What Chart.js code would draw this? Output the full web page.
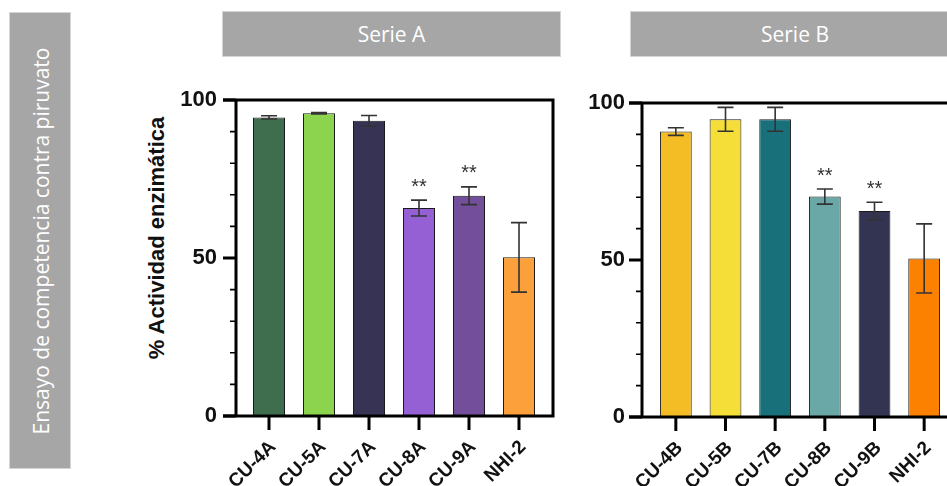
<!DOCTYPE html>
<html lang="es">
<head>
<meta charset="utf-8">
<title>Ensayo de competencia contra piruvato</title>
<script src="https://cdn.jsdelivr.net/npm/chart.js@4.4.1/dist/chart.umd.min.js"></script>
<style>
  html, body { margin: 0; padding: 0; background: #ffffff; overflow: hidden; }
  body { width: 947px; height: 486px; position: relative; }
  .box {
    position: absolute; background: #a6a6a6; border: 1px solid #d4d4d4;
    color: #ffffff; font-family: "Open Sans", sans-serif; box-sizing: border-box;
    display: flex; align-items: center; justify-content: center;
  }
  #side { left: 9px; top: 12px; width: 62px; height: 457px; }
  #side span { transform: rotate(-90deg); white-space: nowrap; font-size: 21px; }
  #headA { left: 222px; top: 11px; width: 339px; height: 46px; font-size: 21px; }
  #headB { left: 630px; top: 11px; width: 330px; height: 46px; font-size: 21px; }
  #ytitle {
    position: absolute; left: 157px; top: 238px; transform: translate(-50%, -50%) rotate(-90deg);
    font-family: "Liberation Sans", Arial, sans-serif; font-weight: bold; font-size: 22px;
    color: #111111; white-space: nowrap;
  }
  canvas { position: absolute; }
  #chartA { left: 100px; top: 0px; }
  #chartB { left: 580px; top: 0px; }
</style>
</head>
<body>
<div class="box" id="side"><span>Ensayo de competencia contra piruvato</span></div>
<div class="box" id="headA">Serie A</div>
<div class="box" id="headB">Serie B</div>
<div id="ytitle">% Actividad enzimática</div>
<canvas id="chartA" width="470" height="486"></canvas>
<canvas id="chartB" width="420" height="486"></canvas>
<script>
// Serie A
const categoriesA = ['CU-4A', 'CU-5A', 'CU-7A', 'CU-8A', 'CU-9A', 'NHI-2'];
const valuesA = [94.5, 95.8, 93.4, 65.8, 69.7, 50.2];
const errorsA = [0.5, 0.2, 1.7, 2.5, 2.8, 11.0];
const signifA = ['', '', '', '**', '**', ''];

// Serie B
const categoriesB = ['CU-4B', 'CU-5B', 'CU-7B', 'CU-8B', 'CU-9B', 'NHI-2'];
const valuesB = [90.9, 94.8, 94.8, 70.2, 65.6, 50.5];
const errorsB = [1.2, 3.8, 3.8, 2.4, 2.8, 11.0];
const signifB = ['', '', '', '**', '**', ''];

// Y axis
const yTickValues = [0, 50, 100];
const yMinorStep = 10;

const colorsA = ['#3f6e4e', '#8cd44e', '#373354', '#9560d4', '#734e9a', '#fca03c'];
const colorsB = ['#f5bd25', '#f5de37', '#17707a', '#6aa8a8', '#333352', '#fd8100'];

const FONT = '"Liberation Sans", Arial, sans-serif';

// Draws the Prism-style frame, tick marks, error bars and significance stars
const prismDecor = {
  id: 'prismDecor',
  afterDatasetsDraw(chart, args, opts) {
    const ctx = chart.ctx;
    const xs = chart.scales.x, ys = chart.scales.y;
    const area = chart.chartArea;
    const axisX = area.left - opts.gapLeft;
    const rightX = area.right + opts.gapRight;
    const yTop = ys.getPixelForValue(ys.max);
    const yBot = ys.getPixelForValue(ys.min);
    const ds = chart.data.datasets[0];
    ctx.save();

    // error bars
    ctx.strokeStyle = '#333333';
    ctx.lineWidth = 1.6;
    ds.data.forEach((v, i) => {
      const e = ds.errors[i];
      const px = xs.getPixelForValue(i);
      const t = ys.getPixelForValue(v + e);
      const b = ys.getPixelForValue(v - e);
      ctx.beginPath();
      ctx.moveTo(px, t); ctx.lineTo(px, b);
      ctx.moveTo(px - 8, t); ctx.lineTo(px + 8, t);
      ctx.moveTo(px - 8, b); ctx.lineTo(px + 8, b);
      ctx.stroke();
      if (ds.signif[i]) {
        ctx.fillStyle = '#333333';
        ctx.font = '20px ' + FONT;
        ctx.textAlign = 'center';
        ctx.textBaseline = 'middle';
        ctx.fillText(ds.signif[i], px, t - 13);
      }
    });

    // frame
    ctx.strokeStyle = '#000000';
    ctx.lineWidth = 3;
    ctx.lineCap = 'butt';
    ctx.beginPath();
    ctx.moveTo(axisX - 13, yTop); ctx.lineTo(rightX + 1.5, yTop);
    ctx.moveTo(axisX - 13, yBot); ctx.lineTo(rightX + 1.5, yBot);
    ctx.moveTo(axisX, yTop - 1.5); ctx.lineTo(axisX, yBot + 1.5);
    ctx.moveTo(rightX, yTop - 1.5); ctx.lineTo(rightX, yBot + 1.5);
    ctx.stroke();

    // major y ticks
    ctx.beginPath();
    yTickValues.forEach(v => {
      const py = ys.getPixelForValue(v);
      ctx.moveTo(axisX - 13, py); ctx.lineTo(axisX, py);
    });
    ctx.stroke();

    // minor y ticks
    ctx.lineWidth = 1.6;
    ctx.beginPath();
    for (let v = ys.min + yMinorStep; v < ys.max; v += yMinorStep) {
      if (yTickValues.includes(v)) continue;
      const py = ys.getPixelForValue(v);
      ctx.moveTo(axisX - 6, py); ctx.lineTo(axisX, py);
    }
    ctx.stroke();

    // category ticks
    ctx.lineWidth = 3;
    ctx.beginPath();
    xs.ticks.forEach((t, i) => {
      const px = xs.getPixelForValue(i);
      ctx.moveTo(px, yBot); ctx.lineTo(px, yBot + 14);
    });
    ctx.stroke();
    ctx.restore();
  }
};

function makeChart(id, labels, values, errors, signif, colors, geo) {
  return new Chart(document.getElementById(id), {
    type: 'bar',
    data: {
      labels: labels,
      datasets: [{
        data: values,
        errors: errors,
        signif: signif,
        backgroundColor: colors,
        borderColor: '#1a1a1a',
        borderWidth: 1,
        borderSkipped: false,
        categoryPercentage: 1,
        barPercentage: 0.64
      }]
    },
    options: {
      responsive: false,
      animation: false,
      devicePixelRatio: 1,
      layout: { padding: { top: geo.top, right: geo.right, bottom: 0, left: 0 } },
      plugins: {
        legend: { display: false },
        tooltip: { enabled: false },
        prismDecor: { gapLeft: geo.gapLeft, gapRight: geo.gapRight }
      },
      scales: {
        x: {
          grid: { display: false, drawTicks: false },
          border: { display: false },
          ticks: {
            minRotation: 45, maxRotation: 45, padding: geo.xPad, labelOffset: 4, autoSkip: false,
            color: '#111111', font: { family: FONT, size: 19, weight: 'bold' }
          },
          afterFit(scale) { scale.height = geo.xHeight; }
        },
        y: {
          min: 0, max: 100,
          grid: { display: false, drawTicks: false },
          border: { display: false },
          afterBuildTicks(scale) { scale.ticks = yTickValues.map(v => ({ value: v })); },
          ticks: {
            padding: geo.yPad,
            color: '#111111', font: { family: FONT, size: 22, weight: 'bold' }
          },
          afterFit(scale) { scale.width = geo.yWidth; }
        }
      }
    },
    plugins: [prismDecor]
  });
}

makeChart('chartA', categoriesA, valuesA, errorsA, signifA, colorsA,
  { top: 100, right: 26, xHeight: 70, yWidth: 144, yPad: 27, xPad: 20, gapLeft: 8, gapRight: 9 });
makeChart('chartB', categoriesB, valuesB, errorsB, signifB, colorsB,
  { top: 103, right: 51, xHeight: 69, yWidth: 71, yPad: 26, xPad: 20, gapLeft: 9, gapRight: 9 });
</script>
</body>
</html>
